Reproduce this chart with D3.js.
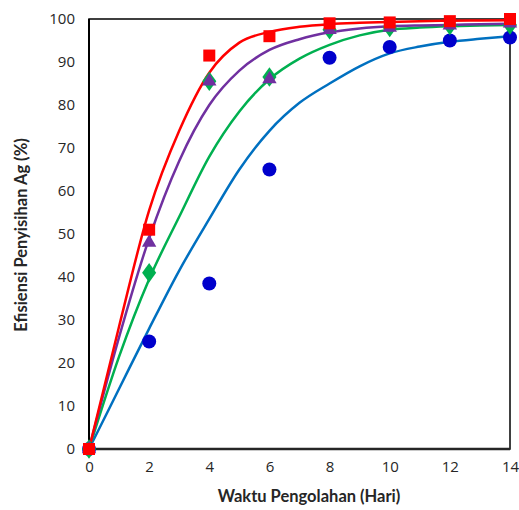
<!DOCTYPE html>
<html><head><meta charset="utf-8">
<script src="https://cdn.jsdelivr.net/npm/d3@7"></script>
<style>body{margin:0;background:#fff}svg{display:block}</style>
</head><body>
<svg id="c" width="519" height="510"></svg>
<script>
// Observed data (markers)
const days = [0, 2, 4, 6, 8, 10, 12, 14];
const seriesBlue   = [0, 25, 38.5, 65, 91, 93.5, 95, 95.7];
const seriesGreen  = [0, 41, 85.5, 86.5, 97.5, 98, 98.5, 98.6];
const seriesPurple = [0, 48, 85.5, 86, 97.5, 98, 98.5, 99];
const seriesRed    = [0, 51, 91.5, 96, 99, 99.2, 99.5, 100];

// Fitted curves
const curveDays   = [0, 1, 2, 3, 4, 5, 6, 7, 8, 9, 10, 11, 12, 13, 14];
const curveBlue   = [0, 14, 28, 41.5, 53.5, 65, 74, 80.5, 85, 89, 92, 93.6, 94.7, 95.4, 96];
const curveGreen  = [0, 21.5, 39.5, 54, 68, 78.5, 86, 90.8, 94, 96.2, 97.5, 98, 98.3, 98.5, 98.6];
const curvePurple = [0, 26, 49, 67, 80, 88, 92.8, 95.3, 96.9, 97.8, 98.3, 98.5, 98.6, 98.8, 98.9];
const curveRed    = [0, 28.5, 55.5, 74, 87.5, 94.5, 97, 98.2, 98.8, 99.1, 99.3, 99.5, 99.6, 99.65, 99.7];

const xTicks = [0, 2, 4, 6, 8, 10, 12, 14];
const yTicks = [0, 10, 20, 30, 40, 50, 60, 70, 80, 90, 100];

const svg = d3.select("#c");
const L = 89, R = 510, T = 19, B = 449;
const x = d3.scaleLinear().domain([0, 14]).range([L, R]);
const y = d3.scaleLinear().domain([0, 100]).range([B, T]);

// frame
svg.append("rect").attr("x", L).attr("y", T).attr("width", R - L).attr("height", B - T)
  .attr("fill", "none").attr("stroke", "#000").attr("stroke-width", 1.5);
svg.append("line").attr("x1", L).attr("x2", L).attr("y1", T).attr("y2", B).attr("stroke", "#000").attr("stroke-width", 2);
svg.append("line").attr("x1", L).attr("x2", R).attr("y1", B).attr("y2", B).attr("stroke", "#262626").attr("stroke-width", 2.5);

const font = "'Open Sans', sans-serif";
const titleFont = "Lato, 'Open Sans', sans-serif";
const xAxis = d3.axisBottom(x).tickValues(xTicks).tickSize(0).tickPadding(12);
const gx = svg.append("g").attr("transform", `translate(0,${B})`).call(xAxis);
gx.select(".domain").remove();
gx.selectAll("text").attr("font-family", font).attr("font-size", 15).attr("fill", "#262626");

const yAxis = d3.axisLeft(y).tickValues(yTicks).tickSize(0).tickPadding(14);
const gy = svg.append("g").attr("transform", `translate(${L},0)`).call(yAxis);
gy.select(".domain").remove();
gy.selectAll("text").attr("font-family", font).attr("font-size", 15).attr("fill", "#262626");

// axis titles
svg.append("text").attr("x", 309).attr("y", 502).attr("text-anchor", "middle")
  .attr("font-family", titleFont).attr("font-weight", "bold").attr("font-size", 16.5).attr("fill", "#262626")
  .text("Waktu Pengolahan (Hari)");
svg.append("text").attr("transform", `translate(27,235) rotate(-90)`).attr("text-anchor", "middle")
  .attr("font-family", titleFont).attr("font-weight", "bold").attr("font-size", 16.5).attr("fill", "#262626")
  .text("Efisiensi Penyisihan Ag (%)");

const line = d3.line().x(d => x(d[0])).y(d => y(d[1])).curve(d3.curveMonotoneX);
const curves = [
  [curveBlue, "#0070C0"],
  [curveGreen, "#00B050"],
  [curvePurple, "#7030A0"],
  [curveRed, "#FF0000"]
];
curves.forEach(([vals, col]) => {
  svg.append("path").datum(curveDays.map((d, i) => [d, vals[i]]))
    .attr("d", line).attr("fill", "none").attr("stroke", col).attr("stroke-width", 2.5);
});

// markers
const pts = v => days.map((d, i) => [d, v[i]]);
svg.append("g").selectAll("circle").data(pts(seriesBlue)).join("circle")
  .attr("cx", d => x(d[0])).attr("cy", d => y(d[1])).attr("r", 7).attr("fill", "#0000CC");
svg.append("g").selectAll("path").data(pts(seriesGreen)).join("path")
  .attr("d", d3.symbol().type(d3.symbolDiamond).size(110))
  .attr("transform", d => `translate(${x(d[0])},${y(d[1])}) scale(1.25,1)`).attr("fill", "#00B050");
svg.append("g").selectAll("path").data(pts(seriesPurple)).join("path")
  .attr("d", d3.symbol().type(d3.symbolTriangle).size(90))
  .attr("transform", d => `translate(${x(d[0])},${y(d[1])})`).attr("fill", "#7030A0");
svg.append("g").selectAll("rect").data(pts(seriesRed)).join("rect")
  .attr("x", d => x(d[0]) - 6).attr("y", d => y(d[1]) - 6).attr("width", 12).attr("height", 12).attr("fill", "#FF0000");
</script>
</body></html>
